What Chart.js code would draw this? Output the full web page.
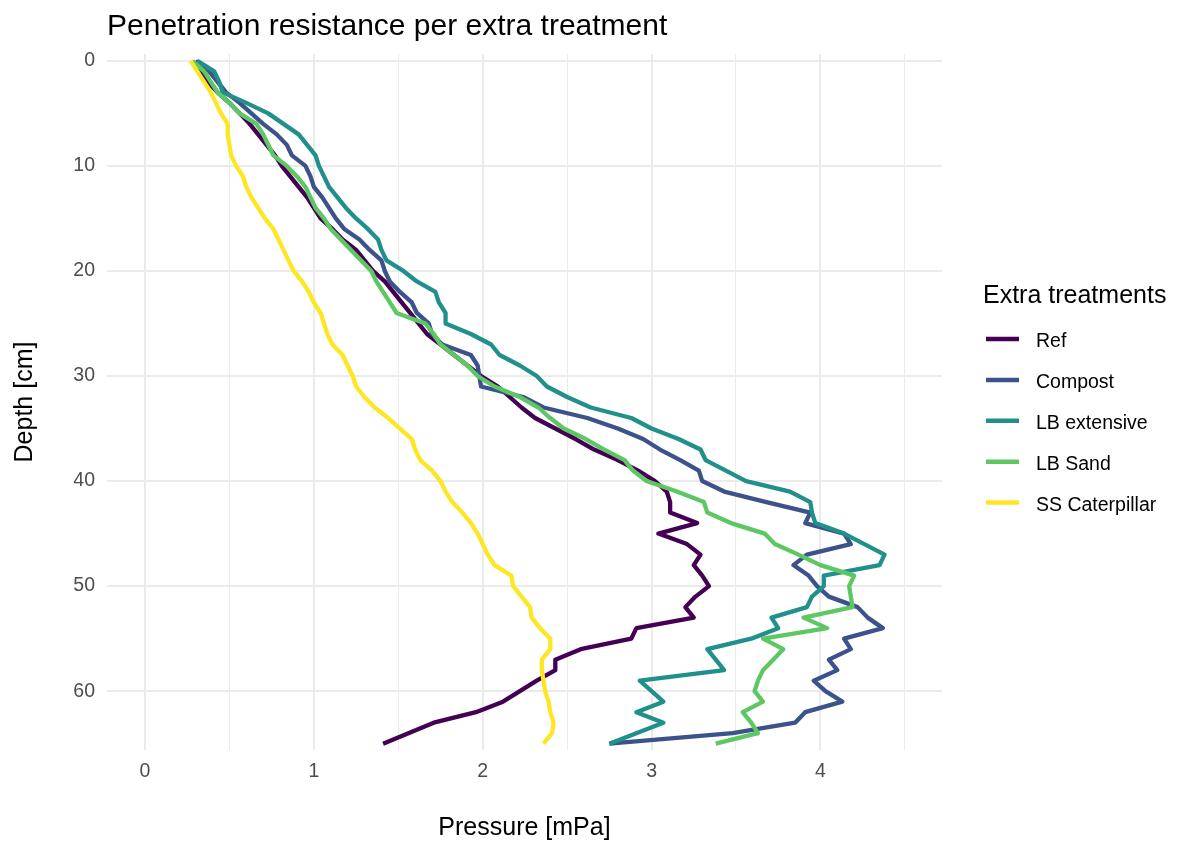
<!DOCTYPE html>
<html>
<head>
<meta charset="utf-8">
<script src="https://cdn.jsdelivr.net/npm/chart.js@4.4.1/dist/chart.umd.min.js"></script>
<style>
  html, body { margin: 0; padding: 0; background: #ffffff; }
  canvas { display: block; }
</style>
</head>
<body>
<canvas id="chart" width="1180" height="846"></canvas>
<script>
// ---------------- DATA ----------------
const chartTitle = "Penetration resistance per extra treatment";
const xAxisTitle = "Pressure [mPa]";
const yAxisTitle = "Depth [cm]";
const legendTitle = "Extra treatments";

const seriesNames = ["Ref", "Compost", "LB extensive", "LB Sand", "SS Caterpillar"];
const seriesColors = ["#440154", "#3B528B", "#21908C", "#5DC863", "#FDE725"];

const depthCm = [0,1,2,3,4,5,6,7,8,9,10,11,12,13,14,15,16,17,18,19,20,21,22,23,24,25,26,27,28,29,30,31,32,33,34,35,36,37,38,39,40,41,42,43,44,45,46,47,48,49,50,51,52,53,54,55,56,57,58,59,60,61,62,63,64,65];

const refPressure = [0.30,0.33,0.37,0.43,0.50,0.56,0.62,0.67,0.72,0.77,0.81,0.86,0.91,0.96,1.00,1.04,1.11,1.17,1.25,1.30,1.35,1.42,1.47,1.52,1.57,1.62,1.67,1.75,1.83,1.91,1.99,2.09,2.16,2.23,2.31,2.43,2.55,2.66,2.80,2.92,3.02,3.09,3.11,3.11,3.27,3.04,3.21,3.29,3.25,3.30,3.34,3.26,3.20,3.25,2.91,2.88,2.58,2.43,2.43,2.32,2.22,2.12,1.96,1.71,1.56,1.41];

const compostPressure = [0.30,0.38,0.43,0.48,0.56,0.63,0.70,0.78,0.84,0.87,0.95,0.98,1.00,1.05,1.09,1.13,1.18,1.27,1.33,1.40,1.42,1.45,1.51,1.58,1.61,1.68,1.70,1.76,1.93,1.97,1.98,1.99,2.24,2.36,2.62,2.80,2.95,3.05,3.17,3.28,3.30,3.43,3.68,3.94,3.91,4.14,4.18,3.92,3.84,3.93,3.98,4.05,4.22,4.28,4.37,4.14,4.18,4.05,4.10,3.96,4.03,4.13,3.91,3.85,3.48,2.75];

const lbExtensivePressure = [0.31,0.41,0.44,0.46,0.60,0.73,0.82,0.91,0.96,1.01,1.03,1.06,1.09,1.14,1.19,1.25,1.32,1.38,1.40,1.43,1.53,1.61,1.72,1.74,1.78,1.78,1.93,2.05,2.10,2.22,2.32,2.38,2.50,2.64,2.88,3.00,3.16,3.29,3.32,3.44,3.56,3.82,3.94,3.95,3.97,4.14,4.26,4.38,4.35,4.02,4.02,3.95,3.92,3.71,3.75,3.59,3.33,3.38,3.43,2.93,3.00,3.07,2.91,3.07,2.91,2.75];

const lbSandPressure = [0.28,0.35,0.39,0.43,0.50,0.56,0.66,0.70,0.73,0.76,0.84,0.90,0.95,0.98,1.01,1.06,1.10,1.16,1.22,1.28,1.34,1.37,1.41,1.45,1.49,1.66,1.71,1.75,1.83,1.91,1.97,2.07,2.22,2.33,2.40,2.48,2.61,2.72,2.84,2.89,2.97,3.15,3.31,3.33,3.47,3.67,3.73,3.87,4.00,4.20,4.17,4.18,4.19,3.90,4.04,3.66,3.78,3.72,3.66,3.63,3.61,3.66,3.54,3.59,3.63,3.38];

const ssCaterpillarPressure = [0.27,0.31,0.35,0.39,0.42,0.45,0.49,0.49,0.50,0.51,0.54,0.58,0.60,0.63,0.67,0.71,0.76,0.79,0.82,0.85,0.88,0.93,0.97,1.00,1.04,1.06,1.08,1.11,1.17,1.20,1.23,1.25,1.30,1.36,1.44,1.51,1.58,1.60,1.63,1.70,1.75,1.78,1.82,1.88,1.93,1.97,2.00,2.03,2.07,2.17,2.18,2.23,2.28,2.29,2.34,2.40,2.40,2.35,2.35,2.36,2.37,2.39,2.40,2.42,2.41,2.36];

const xGridValues = [0,0.5,1,1.5,2,2.5,3,3.5,4,4.5];
const xTickLabels = ["0","","1","","2","","3","","4",""];
const yTickValues = [0,10,20,30,40,50,60];
const yTickLabels = ["0","10","20","30","40","50","60"];

// ---------------- BUILD ----------------
const seriesValues = [refPressure, compostPressure, lbExtensivePressure, lbSandPressure, ssCaterpillarPressure];
const FONT = '"Liberation Sans", Arial, Helvetica, sans-serif';

const datasets = seriesNames.map((name, i) => ({
  label: name,
  data: depthCm.map((d, j) => ({ x: seriesValues[i][j], y: d })),
  borderColor: seriesColors[i],
  backgroundColor: seriesColors[i],
  borderWidth: 4.3,
  pointRadius: 0,
  pointHoverRadius: 0,
  showLine: true,
  tension: 0,
  borderJoinStyle: 'round',
  order: seriesNames.length - i
}));

const decorations = {
  id: 'decorations',
  afterDraw(chart) {
    const ctx = chart.ctx;
    ctx.save();
    ctx.textAlign = 'left';
    ctx.textBaseline = 'alphabetic';
    ctx.fillStyle = '#000000';
    ctx.font = '30px ' + FONT;
    ctx.fillText(chartTitle, chart.chartArea.left, 34.5);

    ctx.font = '25px ' + FONT;
    ctx.fillText(legendTitle, 983, 303);

    const keyY0 = 339, keyStep = 40.9;
    seriesNames.forEach((name, i) => {
      const y = keyY0 + i * keyStep;
      ctx.strokeStyle = seriesColors[i];
      ctx.lineWidth = 4.5;
      ctx.lineCap = 'butt';
      ctx.beginPath();
      ctx.moveTo(986, y);
      ctx.lineTo(1019, y);
      ctx.stroke();
      ctx.fillStyle = '#000000';
      ctx.font = '19.5px ' + FONT;
      ctx.fillText(name, 1036, y + 8);
    });
    ctx.restore();
  }
};

new Chart(document.getElementById('chart'), {
  type: 'scatter',
  data: { datasets },
  options: {
    responsive: false,
    animation: false,
    devicePixelRatio: 1,
    layout: { padding: { top: 54, right: 238, bottom: 0, left: 0 } },
    plugins: {
      legend: { display: false },
      title: { display: false },
      tooltip: { enabled: false }
    },
    scales: {
      x: {
        type: 'linear',
        min: -0.225,
        max: 4.72,
        afterBuildTicks: (scale) => { scale.ticks = xGridValues.map(v => ({ value: v })); },
        afterFit: (scale) => { scale.height = 96; scale.paddingLeft = 0; scale.paddingRight = 0; },
        border: { display: false },
        grid: {
          color: '#EBEBEB',
          lineWidth: (c) => (c.tick && Number.isInteger(c.tick.value)) ? 2 : 1,
          drawTicks: false
        },
        ticks: {
          padding: 10,
          color: '#4D4D4D',
          font: { family: FONT, size: 19.5 },
          maxRotation: 0,
          autoSkip: false,
          callback: (v, idx) => xTickLabels[idx]
        },
        title: {
          display: true,
          text: xAxisTitle,
          color: '#000000',
          font: { family: FONT, size: 25 },
          padding: { top: 0, bottom: 3 }
        }
      },
      y: {
        type: 'linear',
        reverse: true,
        min: -0.65,
        max: 65.6,
        afterBuildTicks: (scale) => { scale.ticks = yTickValues.map(v => ({ value: v })); },
        afterFit: (scale) => { scale.width = 107; scale.paddingTop = 0; scale.paddingBottom = 0; },
        border: { display: false },
        grid: { color: '#EBEBEB', lineWidth: 2, drawTicks: false },
        ticks: {
          padding: 12,
          color: '#4D4D4D',
          font: { family: FONT, size: 19.5 },
          autoSkip: false,
          callback: (v, idx) => yTickLabels[idx]
        },
        title: {
          display: true,
          text: yAxisTitle,
          color: '#000000',
          font: { family: FONT, size: 25 },
          padding: { top: 10, bottom: 0 }
        }
      }
    }
  },
  plugins: [decorations]
});
</script>
</body>
</html>
